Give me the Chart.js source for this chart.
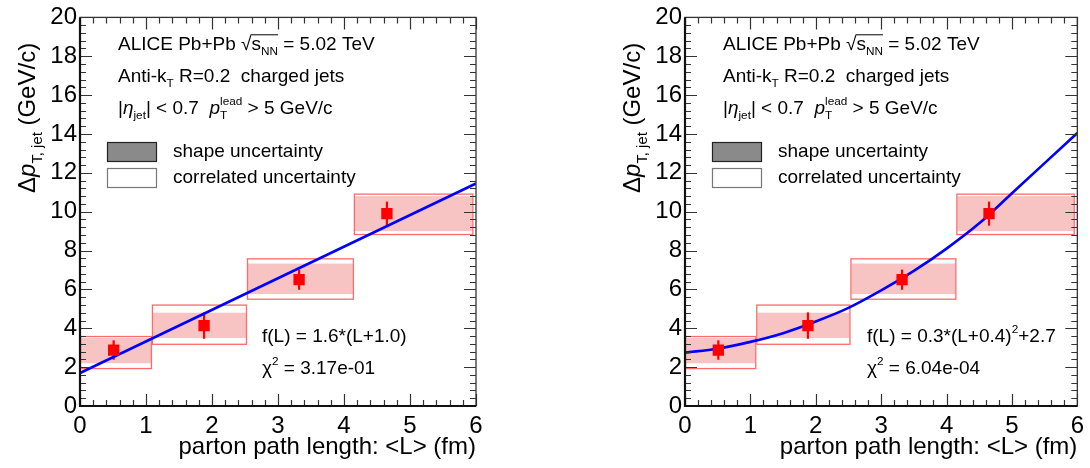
<!DOCTYPE html>
<html>
<head>
<meta charset="utf-8">
<script src="https://cdn.jsdelivr.net/npm/chart.js@4.4.0/dist/chart.umd.min.js"></script>
<style>
  html, body { margin: 0; padding: 0; background: #fff; }
  #wrap { position: relative; width: 1090px; height: 468px; }
  .pane { position: absolute; top: 0; width: 545px; height: 468px; }
</style>
</head>
<body>
<div id="wrap">
  <div class="pane" style="left:0"><canvas id="linear" width="545" height="468"></canvas></div>
  <div class="pane" style="left:545px"><canvas id="quadratic" width="545" height="468"></canvas></div>
</div>
<script>
// measured points (same data in both panels)
var pathLength = [0.51, 1.88, 3.32, 4.65];
var deltaPt    = [2.88, 4.14, 6.50, 9.90];
var statErr    = [0.50, 0.68, 0.52, 0.62];
var binLow     = [0.00, 1.09, 2.53, 4.15];
var binHigh    = [1.09, 2.53, 4.15, 5.96];
var shapeLow   = [2.20, 3.50, 5.76, 9.00];
var shapeHigh  = [3.50, 4.80, 7.33, 10.80];
var corrLow    = [1.90, 3.15, 5.47, 8.80];
var corrHigh   = [3.60, 5.22, 7.60, 10.93];

// fit curves
var linFitL  = [0, 6];
var linFitY  = [1.70, 11.45];
var quadFitL = [0, 0.5, 1, 1.5, 2, 2.5, 3, 3.5, 4, 4.5, 5, 5.5, 6];
var quadFitY = [2.75, 2.95, 3.30, 3.75, 4.35, 5.05, 5.95, 6.95, 8.10, 9.40, 10.95, 12.50, 14.05];

var xTicks = [0, 1, 2, 3, 4, 5, 6];
var yTicks = [0, 2, 4, 6, 8, 10, 12, 14, 16, 18, 20];

var FONT = '"Liberation Sans", Arial, Helvetica, sans-serif';

// parts: [text, kind]  kind: n normal, i italic, _ sub, ^ sup, s stack(sup,sub), r root start, R root end
function drawRich(ctx, x, y, parts, size) {
    var cx = x, rootStart = null;
    ctx.textAlign = 'left';
    ctx.textBaseline = 'alphabetic';
    parts.forEach(function (p) {
        var t = p[0], k = p[1] || 'n';
        var small = size * 0.62;
        if (k == 's') {
            ctx.font = small + 'px ' + FONT;
            ctx.fillText(t, cx, y - size * 0.48);
            ctx.fillText(p[2], cx, y + size * 0.28);
            cx += Math.max(ctx.measureText(t).width, ctx.measureText(p[2]).width);
            return;
        }
        if (k == 'R') {
            ctx.beginPath();
            ctx.lineWidth = 1;
            ctx.moveTo(rootStart, y - size * 0.8);
            ctx.lineTo(cx, y - size * 0.8);
            ctx.stroke();
            return;
        }
        var s = size, dy = 0, st = '';
        if (k == '_') { s = small; dy = size * 0.28; }
        if (k == '^') { s = small; dy = -size * 0.45; }
        if (k == 'i') { st = 'italic '; }
        ctx.font = st + s + 'px ' + FONT;
        ctx.fillText(t, cx, y + dy);
        cx += ctx.measureText(t).width;
        if (k == 'r') rootStart = cx - 1;
    });
    return cx;
}

function makePanel(id, fitL, fitY, fitText, chiText) {
    var canvas = document.getElementById(id);
    var yAxisWidth = id == 'linear' ? 80 : 140;
    var rightPad = id == 'linear' ? 69 : 11;

    var alicePanel = {
        id: 'alicePanel',
        beforeDatasetsDraw: function (chart) {
            var ctx = chart.ctx, xs = chart.scales.x, ys = chart.scales.y;
            ctx.save();
            for (var i = 0; i < pathLength.length; i++) {
                var x0 = xs.getPixelForValue(binLow[i]), x1 = xs.getPixelForValue(binHigh[i]);
                // correlated box
                var c0 = ys.getPixelForValue(corrHigh[i]), c1 = ys.getPixelForValue(corrLow[i]);
                ctx.fillStyle = '#ffffff';
                ctx.fillRect(x0, c0, x1 - x0, c1 - c0);
                // shape band
                var s0 = ys.getPixelForValue(shapeHigh[i]), s1 = ys.getPixelForValue(shapeLow[i]);
                ctx.fillStyle = '#f8c3c3';
                ctx.fillRect(x0 + 1, s0, x1 - x0 - 2, s1 - s0);
                ctx.strokeStyle = '#ff6a6a';
                ctx.lineWidth = 1.3;
                ctx.strokeRect(x0 + 0.5, c0 + 0.5, x1 - x0 - 1, c1 - c0 - 1);
            }
            // stat error bars
            ctx.strokeStyle = '#ff0000';
            ctx.lineWidth = 2.2;
            for (var j = 0; j < pathLength.length; j++) {
                var px = xs.getPixelForValue(pathLength[j]);
                ctx.beginPath();
                ctx.moveTo(px, ys.getPixelForValue(deltaPt[j] + statErr[j]));
                ctx.lineTo(px, ys.getPixelForValue(deltaPt[j] - statErr[j]));
                ctx.stroke();
            }
            ctx.restore();
        },
        afterDraw: function (chart) {
            var ctx = chart.ctx, a = chart.chartArea, xs = chart.scales.x, ys = chart.scales.y;
            ctx.save();
            ctx.strokeStyle = '#333';
            // ticks inside the frame, on all sides
            ctx.lineWidth = 1.2;
            ctx.beginPath();
            for (var v = 0; v <= 20.001; v += 0.4) {
                var py = Math.round(ys.getPixelForValue(v)) + 0.5;
                var len = Math.abs(v / 2 - Math.round(v / 2)) < 0.01 ? 12 : 6;
                ctx.moveTo(a.left, py); ctx.lineTo(a.left + len, py);
                ctx.moveTo(a.right, py); ctx.lineTo(a.right - len, py);
            }
            for (var u = 0; u <= 6.001; u += 0.2) {
                var px = Math.round(xs.getPixelForValue(u)) + 0.5;
                var l2 = Math.abs(u - Math.round(u)) < 0.01 ? 12 : 6;
                ctx.moveTo(px, a.bottom); ctx.lineTo(px, a.bottom - l2);
                ctx.moveTo(px, a.top); ctx.lineTo(px, a.top + l2);
            }
            ctx.stroke();
            // frame
            ctx.lineWidth = 1.3;
            ctx.strokeRect(a.left, a.top, a.right - a.left, a.bottom - a.top);
            ctx.strokeStyle = '#111';
            ctx.lineWidth = 2.2;
            ctx.beginPath();
            ctx.moveTo(a.left, a.top); ctx.lineTo(a.left, a.bottom); ctx.lineTo(a.right, a.bottom);
            ctx.stroke();

            // header text
            ctx.fillStyle = '#000';
            ctx.strokeStyle = '#000';
            var tx = a.left + 38;
            drawRich(ctx, tx, 50, [['ALICE Pb+Pb '], ['\u221A', 'r'], ['s'], ['NN', '_'], ['', 'R'], [' = 5.02 TeV']], 19);
            drawRich(ctx, tx, 82, [['Anti-k'], ['T', '_'], [' R=0.2  charged jets']], 19);
            drawRich(ctx, tx, 114, [['|'], ['\u03B7', 'i'], ['jet', '_'], ['| < 0.7  '], ['p', 'i'], ['lead', 's', 'T'], [' > 5 GeV/c']], 19);

            // legend
            ctx.fillStyle = '#8a8a8a';
            ctx.fillRect(a.left + 27, 142, 50, 20);
            ctx.lineWidth = 1.2;
            ctx.strokeStyle = '#222';
            ctx.strokeRect(a.left + 27.5, 142.5, 49, 19);
            ctx.strokeStyle = '#777';
            ctx.strokeRect(a.left + 27.5, 168.5, 49, 19);
            ctx.fillStyle = '#000';
            drawRich(ctx, a.left + 93, 157, [['shape uncertainty']], 19);
            drawRich(ctx, a.left + 93, 183, [['correlated uncertainty']], 19);

            // fit labels
            drawRich(ctx, a.left + 182, 342, fitText, 19);
            drawRich(ctx, a.left + 182, 374, chiText, 19);

            // axis titles
            ctx.font = '24px ' + FONT;
            ctx.textAlign = 'right';
            ctx.fillText('parton path length: <L> (fm)', a.right, 454);
            ctx.translate(a.left - 45, 193);
            ctx.rotate(-Math.PI / 2);
            drawRich(ctx, 0, 0, [['\u0394'], ['p', 'i'], ['T, jet', '_'], [' (GeV/c)']], 24);
            ctx.restore();
        }
    };

    return new Chart(canvas, {
        type: 'scatter',
        data: {
            datasets: [{
                type: 'scatter',
                data: pathLength.map(function (l, i) { return { x: l, y: deltaPt[i] }; }),
                pointStyle: 'rect',
                pointRadius: 8,
                backgroundColor: '#ff0000',
                borderColor: '#ff0000',
                borderWidth: 0,
                order: 0
            }, {
                type: 'line',
                data: fitL.map(function (l, i) { return { x: l, y: fitY[i] }; }),
                borderColor: '#0000ff',
                borderWidth: 2.6,
                pointRadius: 0,
                cubicInterpolationMode: 'monotone',
                fill: false,
                order: 1
            }]
        },
        options: {
            responsive: false,
            animation: false,
            events: [],
            layout: { padding: { top: 15, right: rightPad, left: 0, bottom: 0 } },
            plugins: { legend: { display: false }, tooltip: { enabled: false } },
            scales: {
                x: {
                    type: 'linear', min: 0, max: 6,
                    grid: { display: false, drawTicks: false },
                    border: { display: false },
                    afterFit: function (s) { s.height = 62; },
                    afterBuildTicks: function (s) { s.ticks = xTicks.map(function (v) { return { value: v }; }); },
                    ticks: { color: '#000', padding: 6, font: { family: FONT, size: 24 }, maxRotation: 0 }
                },
                y: {
                    type: 'linear', min: 0, max: 20,
                    grid: { display: false, drawTicks: false },
                    border: { display: false },
                    afterFit: function (s) { s.width = yAxisWidth; },
                    afterBuildTicks: function (s) { s.ticks = yTicks.map(function (v) { return { value: v }; }); },
                    ticks: { color: '#000', padding: 3, font: { family: FONT, size: 24 } }
                }
            }
        },
        plugins: [alicePanel]
    });
}

makePanel('linear', linFitL, linFitY,
    [['f(L) = 1.6*(L+1.0)']],
    [['\u03C7'], ['2', '^'], [' = 3.17e-01']]);
makePanel('quadratic', quadFitL, quadFitY,
    [['f(L) = 0.3*(L+0.4)'], ['2', '^'], ['+2.7']],
    [['\u03C7'], ['2', '^'], [' = 6.04e-04']]);
</script>
</body>
</html>
